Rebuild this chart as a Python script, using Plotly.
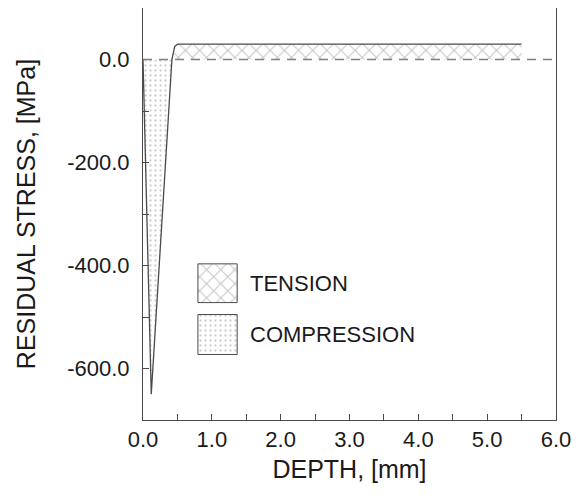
import plotly.graph_objects as go

# ---- data ----
depth_mm = [0.0, 0.12, 0.42, 0.46, 0.50, 5.5]
stress_mpa = [0.0, -650.0, 0.0, 25.0, 30.0, 30.0]

x_tickvals = [0, 1, 2, 3, 4, 5, 6]
x_ticktext = ["0.0", "1.0", "2.0", "3.0", "4.0", "5.0", "6.0"]
y_tickvals = [0, -200, -400, -600]
y_ticktext = ["0.0", "-200.0", "-400.0", "-600.0"]
legend_labels = ["TENSION", "COMPRESSION"]

# split the profile into compressive and tensile parts
comp_x = [d for d, s in zip(depth_mm, stress_mpa) if s <= 0]
comp_y = [s for s in stress_mpa if s <= 0]
ten_x = [d for d, s in zip(depth_mm, stress_mpa) if s >= 0 and d > 0]
ten_y = [s for d, s in zip(depth_mm, stress_mpa) if s >= 0 and d > 0]

FONT = "Liberation Sans, Arial, sans-serif"
TXT = "#1a1a1a"
LINE = "#4a4a4a"
cross = dict(shape="x", fgcolor="#8c8c8c", bgcolor="white", size=10, solidity=0.2)
dots = dict(shape=".", fgcolor="#999999", bgcolor="white", size=5, solidity=0.16)

fig = go.Figure()
fig.add_trace(go.Scatter(x=comp_x, y=comp_y, mode="lines", fill="tozeroy",
                         fillpattern=dots, line=dict(width=0), showlegend=False,
                         hoverinfo="skip"))
fig.add_trace(go.Scatter(x=ten_x, y=ten_y, mode="lines", fill="tozeroy",
                         fillpattern=cross, line=dict(width=0), showlegend=False,
                         hoverinfo="skip"))
fig.add_trace(go.Scatter(x=depth_mm, y=stress_mpa, mode="lines",
                         line=dict(color=LINE, width=1.3), showlegend=False))

# zero line
fig.add_shape(type="line", xref="x domain", yref="y", x0=0, x1=1, y0=0, y1=0,
              line=dict(color="#808080", width=1.5, dash="9px,7px"), layer="above")

# legend boxes drawn on an overlay axis (0..1 of the plot area)
legend_boxes = [(0.133, 0.228, 0.285, 0.379, cross), (0.133, 0.228, 0.159, 0.256, dots)]
for (x0, x1, y0, y1, pat), lab in zip(legend_boxes, legend_labels):
    fig.add_trace(go.Scatter(x=[x0, x1, x1, x0, x0], y=[y0, y0, y1, y1, y0],
                             xaxis="x2", yaxis="y2", mode="lines", fill="toself",
                             fillpattern=pat, line=dict(color=LINE, width=1),
                             showlegend=False, hoverinfo="skip"))
    fig.add_annotation(x=0.254, y=(y0 + y1) / 2, xref="paper", yref="paper",
                       text=lab, showarrow=False, xanchor="left", yanchor="middle",
                       font=dict(family=FONT, size=22, color=TXT))

axis_common = dict(showline=True, mirror=True, linecolor=LINE, linewidth=1,
                   showgrid=False, zeroline=False, ticks="inside", ticklen=6,
                   tickcolor=LINE, tickfont=dict(family=FONT, size=22, color=TXT))

# the page body adds an 8px offset, so the figure is sized/margined to compensate
fig.update_layout(
    width=566, height=478,
    margin=dict(l=135, r=18, t=0, b=66, autoexpand=False),
    paper_bgcolor="white", plot_bgcolor="white",
    xaxis=dict(range=[0, 6], tickvals=x_tickvals, ticktext=x_ticktext,
               minor=dict(dtick=0.5, ticks="inside", ticklen=6, tickcolor=LINE),
               title=dict(text="DEPTH, [mm]", font=dict(family=FONT, size=25, color=TXT),
                          standoff=9),
               **axis_common),
    yaxis=dict(range=[-700, 100], tickvals=y_tickvals, ticktext=y_ticktext,
               ticklabelstandoff=8,
               minor=dict(dtick=100, ticks="inside", ticklen=6, tickcolor=LINE),
               title=dict(text="RESIDUAL STRESS, [MPa]",
                          font=dict(family=FONT, size=25, color=TXT), standoff=24),
               **axis_common),
    xaxis2=dict(range=[0, 1], overlaying="x", visible=False, fixedrange=True),
    yaxis2=dict(range=[0, 1], overlaying="y", visible=False, fixedrange=True),
)

fig.write_html("out.html")
